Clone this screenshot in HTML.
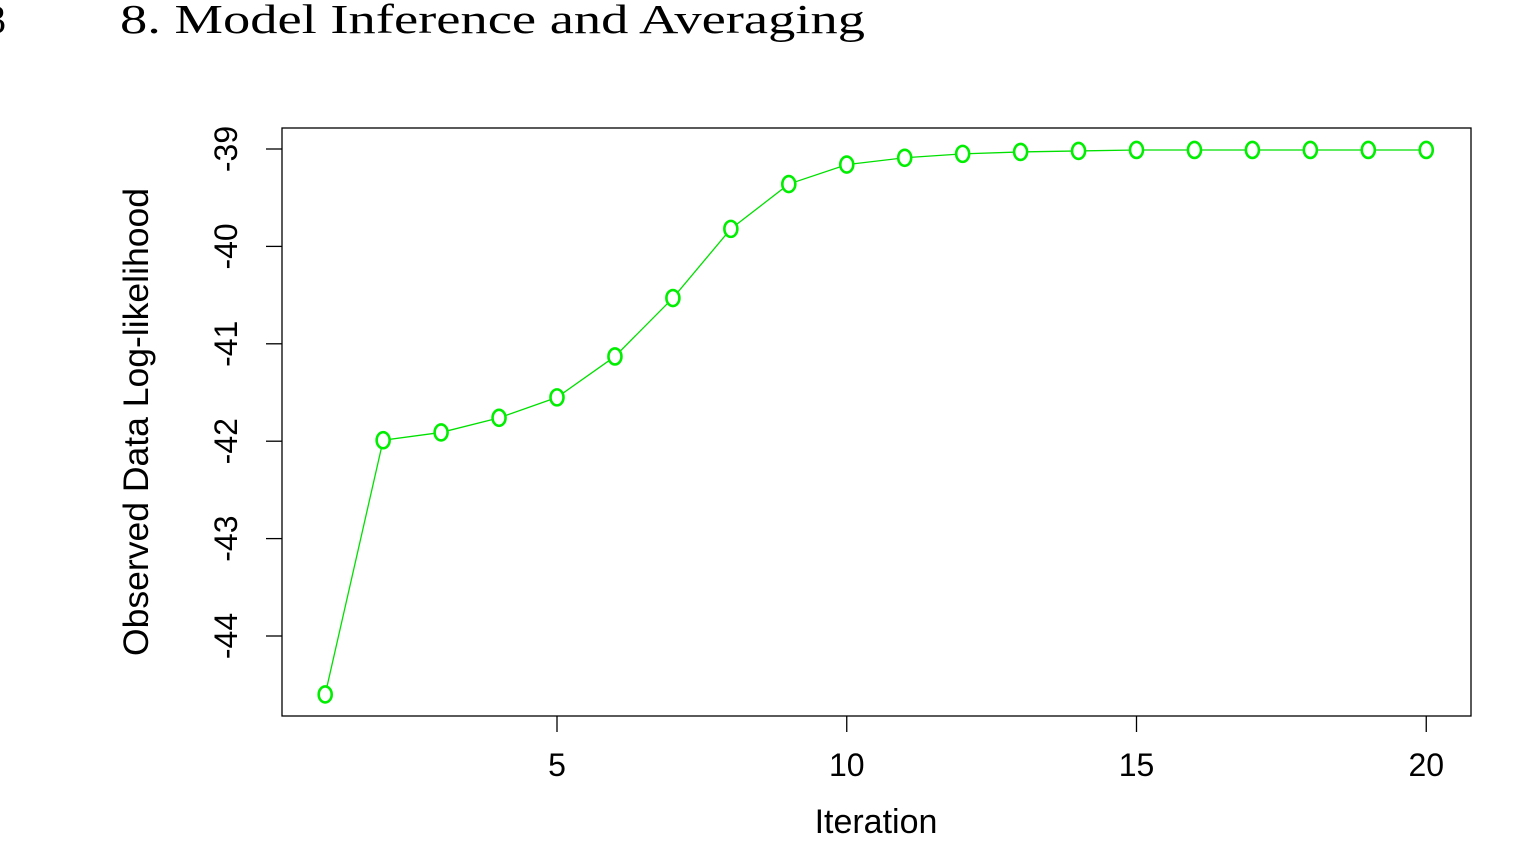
<!DOCTYPE html>
<html><head><meta charset="utf-8"><style>
body{margin:0;background:#fff;width:1525px;height:844px;overflow:hidden}
svg{display:block}
</style></head><body>
<svg width="1525" height="844">
<text x="-14" y="33" font-family="Liberation Serif, serif" font-size="40">3</text>
<text x="120" y="33" font-family="Liberation Serif, serif" font-size="41" textLength="745" lengthAdjust="spacingAndGlyphs">8.  Model Inference and Averaging</text>
<rect x="282" y="128" width="1189" height="588" fill="none" stroke="#000" stroke-width="1.3"/>
<g id="axes"></g>
<g id="marks"></g>
<text x="876" y="833" text-anchor="middle" font-family="Liberation Sans, sans-serif" font-size="34">Iteration</text>
<text transform="translate(148,422) rotate(-90)" text-anchor="middle" font-family="Liberation Sans, sans-serif" font-size="35" textLength="468" lengthAdjust="spacingAndGlyphs">Observed Data Log-likelihood</text>
</svg>
<script>
const iterations=[1,2,3,4,5,6,7,8,9,10,11,12,13,14,15,16,17,18,19,20];
const loglik=[-44.6,-41.99,-41.91,-41.76,-41.55,-41.13,-40.53,-39.82,-39.36,-39.16,-39.09,-39.05,-39.03,-39.02,-39.01,-39.01,-39.01,-39.01,-39.01,-39.01];
const xTicks=[5,10,15,20];
const yTicks=[-39,-40,-41,-42,-43,-44];
const NS='http://www.w3.org/2000/svg';
function xs(v){return 557+(v-5)*57.95;}
function ys(v){return 149+(-39-v)*97.4;}
function mk(t,a,p){const e=document.createElementNS(NS,t);for(const k in a)e.setAttribute(k,a[k]);p.appendChild(e);return e;}
const ax=document.getElementById('axes'),mg=document.getElementById('marks');
xTicks.forEach(t=>{
 const l=mk('line',{x1:xs(t),x2:xs(t),y1:716,y2:732,stroke:'#000','stroke-width':1.3},ax);
 
 
 const tx=mk('text',{x:xs(t),y:776,'text-anchor':'middle','font-family':'Liberation Sans, sans-serif','font-size':32},ax);
 tx.textContent=t;
 
 
});
yTicks.forEach(t=>{
 const l=mk('line',{x1:266,x2:282,y1:ys(t),y2:ys(t),stroke:'#000','stroke-width':1.3},ax);
 
 
 const tx=mk('text',{transform:`translate(237,${ys(t)}) rotate(-90)`,'text-anchor':'middle','font-family':'Liberation Sans, sans-serif','font-size':32},ax);
 tx.textContent=t;
 
 
});
const pts=iterations.map((x,i)=>xs(x)+','+ys(loglik[i])).join(' ');
const pl=mk('polyline',{points:pts,fill:'none',stroke:'#00e000','stroke-width':1.3},mg);


iterations.forEach((x,i)=>{
 const c=mk('ellipse',{cx:xs(x),cy:ys(loglik[i]),rx:6.5,ry:8,fill:'#fff',stroke:'#00ee00','stroke-width':2.6},mg);
 
 
});
</script>
</body></html>
